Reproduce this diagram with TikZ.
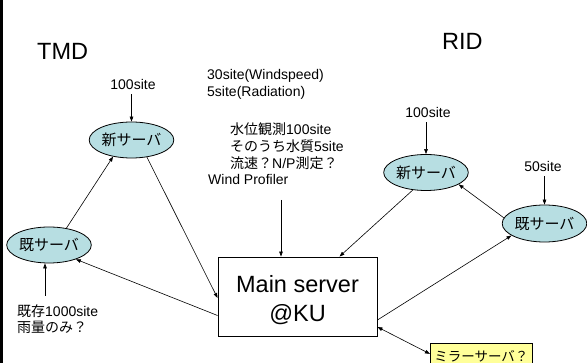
\documentclass[tikz,border=0pt]{standalone}
\usepackage{fontspec}
\setmainfont{Liberation Sans}
\newfontfamily\jp{Noto Sans CJK JP}
\usetikzlibrary{shapes.geometric,arrows.meta,calc}
\definecolor{srvfill}{RGB}{183,222,226}
\definecolor{mirrorfill}{RGB}{255,255,153}
\begin{document}
\begin{tikzpicture}[x=1pt,y=-1pt,
  lbl/.style={inner sep=0pt, font=\fontsize{14}{17}\selectfont},
  lblsrc/.style={inner sep=4pt, font=\fontsize{14}{17}\selectfont},
  big/.style={inner sep=0pt, font=\fontsize{23.5}{28}\selectfont},
  srv/.style={ellipse, draw=black, line width=0.8pt, fill=srvfill, minimum width=69pt, minimum height=36pt, inner sep=0pt, font=\jp\fontsize{15}{17}\selectfont},
  arr/.style={draw=black, line width=0.6pt, -{Triangle[length=5pt,width=3.6pt]}},
  darr/.style={draw=black, line width=0.6pt, {Triangle[length=5pt,width=3.6pt]}-{Triangle[length=5pt,width=3.6pt]}}
]
\useasboundingbox (0,0) rectangle (587,363);
\fill[white] (0,0) rectangle (587,363);
\fill[black] (0,0) rectangle (3,363);

% titles
\node[big, anchor=base west] (tmd) at (37,60) {TMD};
\node[big, anchor=base west] (rid) at (442,50) {RID};

% TMD side
\node[lblsrc, anchor=base] (tmd100) at (133,90) {100site};
\node[srv] (tmdnew) at (131.5,140) {新サーバ};
\node[srv] (tmdold) at (49,245) {既サーバ};
\node[lbl, anchor=base west] (kizon1) at (17,317) {{\jp 既存}1000site};
\node[lbl, anchor=base west] (kizon2) at (17,333) {{\jp 雨量のみ？}};
\coordinate (k1) at (45,296);

% middle texts
\node[lbl, anchor=base west] (t30) at (207,80) {30site(Windspeed)};
\node[lbl, anchor=base west] (t5) at (207,97) {5site(Radiation)};
\node[lbl, anchor=base west] (w1) at (230,135) {{\jp 水位観測}100site};
\node[lbl, anchor=base west] (w2) at (230,152) {{\jp そのうち水質}5site};
\node[lbl, anchor=base west] (w3) at (230,169) {{\jp 流速？}N/P{\jp 測定？}};
\node[lbl, anchor=base west] (wp1) at (208,185) {Wind Profiler};
\coordinate (wp) at (281,200);

% main server
\node[draw=black, line width=0.9pt, minimum width=159pt, minimum height=79pt, inner sep=0pt] (main) at (297.5,296.5) {};
\node[big, anchor=base] (m1) at (297.5,293) {Main server};
\node[big, anchor=base] (m2) at (297.5,322) {@KU};

% RID side
\node[lblsrc, anchor=base] (rid100) at (428,118) {100site};
\node[srv] (ridnew) at (426,172.5) {新サーバ};
\node[lblsrc, anchor=base] (rid50) at (543,172) {50site};
\node[srv, minimum width=66pt, minimum height=37pt] (ridold) at (544.5,223.5) {既サーバ};

% mirror
\node[draw=black, fill=mirrorfill, line width=0.8pt, anchor=north west, minimum width=102pt, minimum height=25pt, inner sep=0pt, font=\jp\fontsize{13.5}{16}\selectfont] (mirror) at (430,343) {ミラーサーバ？};

% connectors
\draw[arr] (tmdnew.north |- tmd100.south) -- (tmdnew.north);
\draw[arr] (tmdold.44) -- (tmdnew.222);
\draw[arr] (tmdnew.-48) -- ([yshift=-1.5pt]main.west);
\draw[arr] ([yshift=-19pt]main.west) -- (tmdold.-28);
\draw[arr] (k1) -- (k1 |- tmdold.south);
\draw[arr] (wp) -- (wp |- main.north);
\draw[arr] (ridnew.north |- rid100.south) -- (ridnew.north);
\draw[arr] (ridold.north |- rid50.south) -- (ridold.north);
\draw[arr] (ridold.172) -- (ridnew.-20);
\draw[arr] (ridnew.233) -- ($(main.north)+(42,0)$);
\draw[arr] ([yshift=-23.5pt]main.east) -- (ridold.200);
\draw[darr] ([yshift=-30.5pt]main.east) -- ([yshift=2pt]mirror.west);
\end{tikzpicture}
\end{document}
